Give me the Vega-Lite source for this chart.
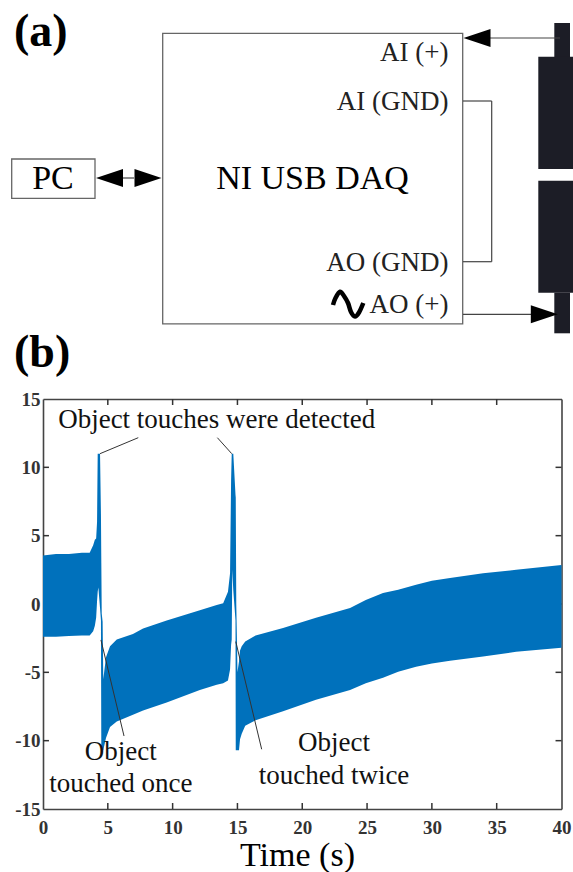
{
"$schema":"https://vega.github.io/schema/vega-lite/v6.json",
"background":"white",
"padding":{"left":11,"top":0,"right":0,"bottom":0},
"spacing":0,
"bounds":"flush",
"config":{"view":{"stroke":null},"font":"Liberation Serif"},
"datasets":{
"boxes":[{"name":"DAQ","x":162.7,"x2":462.7,"y":33.3,"y2":323.8},{"name":"PC","x":11.7,"x2":95,"y":159,"y2":198.3}],
"solids":[{"part":"top stem","x":554.3,"x2":570,"y":23,"y2":57},{"part":"upper body","x":538.3,"x2":573,"y":56.7,"y2":169},{"part":"lower body","x":538.3,"x2":573,"y":180.7,"y2":292.7},{"part":"bottom stem","x":554.3,"x2":570,"y":292.7,"y2":333.3}],
"wires":[{"x":123,"x2":134,"y":178,"y2":178},{"x":490,"x2":560,"y":38,"y2":38},{"x":463,"x2":531,"y":314.3,"y2":314.3},{"x":463,"x2":491.7,"y":101,"y2":101},{"x":491.7,"x2":491.7,"y":101,"y2":261.7},{"x":463,"x2":491.7,"y":261.7,"y2":261.7}],
"arrowsL":[{"x":109.5,"y":178},{"x":477,"y":38}],
"arrowsR":[{"x":148,"y":178},{"x":544.3,"y":314.3}],
"sine":[{"x":333,"y":305},{"x":335.5,"y":298},{"x":340,"y":291.7},{"x":344,"y":296},{"x":348,"y":303},{"x":351,"y":312},{"x":355,"y":316.5},{"x":359,"y":312.5},{"x":363.3,"y":303}],
"band":[
{"t":0,"u":3.55,"l":-2.4},{"t":1,"u":3.65,"l":-2.4},{"t":2,"u":3.65,"l":-2.35},{"t":3,"u":3.75,"l":-2.3},{"t":3.6,"u":3.75,"l":-2.3},{"t":3.87,"u":4.3,"l":-2.0},{"t":4.0,"u":4.7,"l":-1.6},{"t":4.1,"u":4.8,"l":-1.0},{"t":4.17,"u":6,"l":0.2},{"t":4.22,"u":11,"l":0.9},{"t":4.27,"u":11,"l":1.2},{"t":4.4,"u":11,"l":-0.3},{"t":4.47,"u":6.6,"l":-1.2},{"t":4.5,"u":3,"l":-10.7},{"t":4.53,"u":-0.7,"l":-10.7},{"t":4.6,"u":-1.3,"l":-10.7},{"t":4.65,"u":-5.5,"l":-10.7},{"t":4.86,"u":-3.9,"l":-9.8},{"t":5.17,"u":-3.1,"l":-9},{"t":5.69,"u":-2.6,"l":-8.6},{"t":6.94,"u":-2.2,"l":-8.1},{"t":7.72,"u":-1.8,"l":-7.8},{"t":9.54,"u":-1.2,"l":-7.2},{"t":12.1,"u":-0.45,"l":-6.3},{"t":13.4,"u":-0.07,"l":-5.9},{"t":13.9,"u":0.05,"l":-5.8},{"t":14.27,"u":0.9,"l":-5.6},{"t":14.43,"u":2.25,"l":-4.8},{"t":14.51,"u":9,"l":-3},{"t":14.56,"u":11,"l":-2.6},{"t":14.6,"u":11,"l":2.5},{"t":14.68,"u":11,"l":1},{"t":14.85,"u":8,"l":-1.2},{"t":14.87,"u":7.8,"l":-10.7},{"t":14.91,"u":0,"l":-10.7},{"t":14.97,"u":-3,"l":-10.7},{"t":15,"u":-5,"l":-10.7},{"t":15.12,"u":-4.2,"l":-10.7},{"t":15.2,"u":-3.4,"l":-9.9},{"t":15.33,"u":-3.1,"l":-9.5},{"t":15.6,"u":-2.75,"l":-8.9},{"t":16.4,"u":-2.3,"l":-8.5},{"t":18.52,"u":-1.75,"l":-7.85},{"t":21.06,"u":-1,"l":-7},{"t":23.69,"u":-0.3,"l":-6.3},{"t":24.9,"u":0.3,"l":-5.8},{"t":26.23,"u":0.8,"l":-5.4},{"t":27.4,"u":1.05,"l":-4.95},{"t":28.78,"u":1.4,"l":-4.6},{"t":30,"u":1.7,"l":-4.35},{"t":31.4,"u":1.9,"l":-4.15},{"t":33.95,"u":2.25,"l":-3.85},{"t":36.5,"u":2.5,"l":-3.5},{"t":40,"u":2.85,"l":-3.2}],
"leaders":[{"t":4.4,"t2":7.35,"v":11,"v2":12.17},{"t":14.56,"t2":13.45,"v":11,"v2":12.17},{"t":4.47,"t2":6.25,"v":-2.63,"v2":-9.66},{"t":14.87,"t2":16.87,"v":-2.75,"v2":-10.63}],
"tickRows":[
{"t":5,"t2":5,"v":15,"v2":14.56},{"t":10,"t2":10,"v":15,"v2":14.56},{"t":15,"t2":15,"v":15,"v2":14.56},{"t":20,"t2":20,"v":15,"v2":14.56},{"t":25,"t2":25,"v":15,"v2":14.56},{"t":30,"t2":30,"v":15,"v2":14.56},{"t":35,"t2":35,"v":15,"v2":14.56},
{"t":5,"t2":5,"v":-15,"v2":-14.56},{"t":10,"t2":10,"v":-15,"v2":-14.56},{"t":15,"t2":15,"v":-15,"v2":-14.56},{"t":20,"t2":20,"v":-15,"v2":-14.56},{"t":25,"t2":25,"v":-15,"v2":-14.56},{"t":30,"t2":30,"v":-15,"v2":-14.56},{"t":35,"t2":35,"v":-15,"v2":-14.56},
{"t":0,"t2":0.46,"v":-10,"v2":-10},{"t":0,"t2":0.46,"v":-5,"v2":-5},{"t":0,"t2":0.46,"v":0,"v2":0},{"t":0,"t2":0.46,"v":5,"v2":5},{"t":0,"t2":0.46,"v":10,"v2":10},
{"t":40,"t2":39.54,"v":-10,"v2":-10},{"t":40,"t2":39.54,"v":-5,"v2":-5},{"t":40,"t2":39.54,"v":0,"v2":0},{"t":40,"t2":39.54,"v":5,"v2":5},{"t":40,"t2":39.54,"v":10,"v2":10}],
"notes":[{"t":13.4,"v":13.5,"label":"Object touches were detected"},{"t":6,"v":-10.85,"label":"Object"},{"t":6,"v":-13.2,"label":"touched once"},{"t":22.45,"v":-10.2,"label":"Object"},{"t":22.45,"v":-12.55,"label":"touched twice"}]
},
"vconcat":[
{
"width":530,"height":399,
"encoding":{
"x":{"field":"x","type":"quantitative","scale":{"domain":[43,573],"nice":false,"zero":false},"axis":null},
"y":{"field":"y","type":"quantitative","scale":{"domain":[399,0],"nice":false,"zero":false},"axis":null}
},
"layer":[
{"data":{"name":"solids"},"mark":{"type":"rect","color":"#1c1d26"},"encoding":{"x2":{"field":"x2"},"y2":{"field":"y2"}}},
{"data":{"name":"boxes"},"mark":{"type":"rect","fill":null,"stroke":"#666666","strokeWidth":1.3},"encoding":{"x2":{"field":"x2"},"y2":{"field":"y2"}}},
{"data":{"name":"wires"},"mark":{"type":"rule","color":"#444444","strokeWidth":1.2},"encoding":{"x2":{"field":"x2"},"y2":{"field":"y2"}}},
{"data":{"name":"arrowsL"},"mark":{"type":"point","filled":true,"opacity":1,"color":"black","size":729,"shape":"M1,-0.667L-1,0L1,0.667Z"}},
{"data":{"name":"arrowsR"},"mark":{"type":"point","filled":true,"opacity":1,"color":"black","size":729,"shape":"M-1,-0.667L1,0L-1,0.667Z"}},
{"data":{"name":"sine"},"mark":{"type":"line","color":"black","strokeWidth":4.5,"interpolate":"cardinal"}},
{"data":{"values":[{"x":14,"y":46,"label":"(a)"},{"x":14,"y":367,"label":"(b)"}]},"mark":{"type":"text","align":"left","baseline":"alphabetic","font":"Liberation Serif","fontWeight":"bold","fontSize":46,"color":"black"},"encoding":{"text":{"field":"label"}}},
{"data":{"values":[{"x":53,"y":189,"label":"PC"},{"x":312.5,"y":189,"label":"NI USB DAQ"}]},"mark":{"type":"text","align":"center","baseline":"alphabetic","font":"Liberation Serif","fontSize":34,"color":"black"},"encoding":{"text":{"field":"label"}}},
{"data":{"values":[{"x":448.5,"y":61,"label":"AI (+)"},{"x":448.5,"y":313.3,"label":"AO (+)"},{"x":448.5,"y":109.5,"label":"AI (GND)"},{"x":448.5,"y":270.7,"label":"AO (GND)"}]},"mark":{"type":"text","align":"right","baseline":"alphabetic","font":"Liberation Serif","fontSize":27,"color":"#222222"},"encoding":{"text":{"field":"label"}}}
]
},
{
"width":518.5,"height":410,
"resolve":{"axis":{"x":"independent","y":"independent"}},
"layer":[
{"data":{"name":"tickRows"},"mark":{"type":"rule","color":"#333333","strokeWidth":1.5},
"encoding":{
"x":{"field":"t","type":"quantitative","axis":null},
"x2":{"field":"t2"},
"y":{"field":"v","type":"quantitative","axis":null},
"y2":{"field":"v2"}
}},
{"data":{"name":"band"},"mark":{"type":"area","color":"#0071bc","opacity":1,"line":false},
"encoding":{
"x":{"field":"t","type":"quantitative","scale":{"domain":[0,40],"nice":false,"zero":false},
"axis":{"orient":"bottom","values":[0,5,10,15,20,25,30,35,40],"title":"Time (s)","titleX":254,"grid":false,"domainColor":"#444444","domainWidth":1.6,"ticks":false,"labelFont":"Liberation Serif","labelFontWeight":"bold","labelFontSize":19,"labelColor":"#333333","labelPadding":9,"labelFlush":false,"titleFont":"Liberation Serif","titleFontWeight":"normal","titleFontSize":34,"titleColor":"black","titlePadding":1}},
"y":{"field":"u","type":"quantitative","scale":{"domain":[-15,15],"nice":false,"zero":false},
"axis":{"orient":"left","values":[-15,-10,-5,0,5,10,15],"title":null,"grid":false,"domainColor":"#444444","domainWidth":1.6,"ticks":false,"labelFont":"Liberation Serif","labelFontWeight":"bold","labelFontSize":19,"labelColor":"#333333","labelPadding":3,"labelFlush":false,"labelExpr":"'' + datum.value"}},
"y2":{"field":"l"}
}},
{"data":{"name":"leaders"},"mark":{"type":"rule","color":"#333333","strokeWidth":1},
"encoding":{
"x":{"field":"t","type":"quantitative","axis":{"orient":"top","values":[],"title":null,"labels":false,"grid":false,"domainColor":"#444444","domainWidth":1.6,"ticks":false}},
"x2":{"field":"t2"},
"y":{"field":"v","type":"quantitative","axis":{"orient":"right","values":[],"title":null,"labels":false,"grid":false,"domainColor":"#444444","domainWidth":1.6,"ticks":false}},
"y2":{"field":"v2"}
}},
{"data":{"name":"notes"},"mark":{"type":"text","align":"center","baseline":"middle","font":"Liberation Serif","fontSize":27,"color":"#111111"},
"encoding":{
"x":{"field":"t","type":"quantitative","axis":null},
"y":{"field":"v","type":"quantitative","axis":null},
"text":{"field":"label"}
}}
]
}
]
}
